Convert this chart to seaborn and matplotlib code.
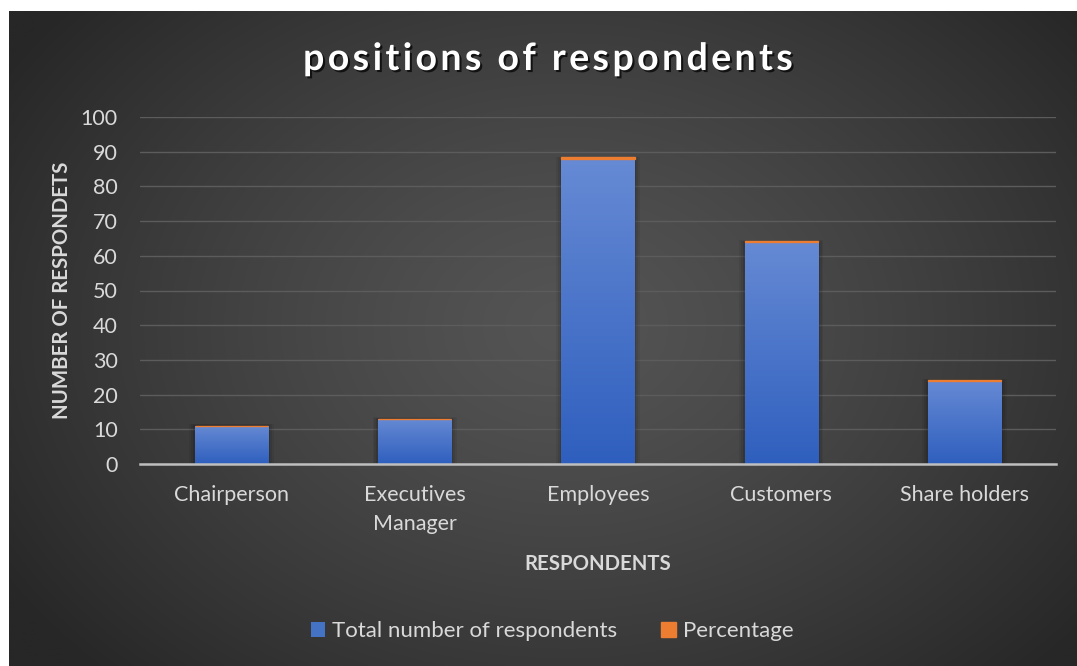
import numpy as np
import pandas as pd
import matplotlib
matplotlib.use("Agg")
import matplotlib.pyplot as plt
import matplotlib.patheffects as pe
from matplotlib.patches import Rectangle
import seaborn as sns

# Survey data
categories = ["Chairperson", "Executives\nManager", "Employees", "Customers", "Share holders"]
total_respondents = [11, 13, 88, 64, 24]
percentage = [0.055, 0.065, 0.44, 0.32, 0.12]
y_ticks = [0, 10, 20, 30, 40, 50, 60, 70, 80, 90, 100]

sns.set_theme(style="white")
plt.rcParams["font.family"] = ["Lato", "DejaVu Sans"]

TEXT = "#d9d9d9"
BLUE = "#4472C4"
ORANGE = "#ED7D31"
FS = 15.5

fig = plt.figure(figsize=(10.77, 6.66), dpi=100)
fig.patch.set_facecolor("white")

# Dark radial-gradient chart area
bg = fig.add_axes([9 / 1077, 0, 1 - 9 / 1077, (666 - 11) / 666])
bg.set_axis_off()
h, w = 300, 500
yy, xx = np.mgrid[0:h, 0:w]
cx, cy = 0.52 * w, 0.48 * h
r = np.sqrt(((xx - cx) / (0.62 * w)) ** 2 + ((yy - cy) / (0.75 * h)) ** 2)
r = np.clip(r, 0, 1)
inner = np.array([0x54, 0x54, 0x54]) / 255
outer = np.array([0x27, 0x27, 0x27]) / 255
img = inner[None, None, :] * (1 - r[..., None] ** 1.3) + outer[None, None, :] * (r[..., None] ** 1.3)
bg.imshow(img, aspect="auto", extent=[0, 1, 0, 1], interpolation="bilinear")
bg.set_xlim(0, 1)
bg.set_ylim(0, 1)

ax = fig.add_axes([140 / 1077, (666 - 464) / 666, (1056 - 140) / 1077, (464 - 117) / 666])
ax.set_facecolor("none")

df = pd.DataFrame({"category": categories, "total": total_respondents, "pct": percentage})
sns.barplot(data=df, x="category", y="total", color=BLUE, width=0.4, ax=ax,
            saturation=1, zorder=3, edgecolor="none", linewidth=0,
            label="Total number of respondents")
sns.barplot(data=df, x="category", y="pct", bottom=df["total"], color=ORANGE, width=0.4,
            ax=ax, saturation=1, zorder=4, edgecolor=ORANGE, linewidth=1.0,
            label="Percentage")

# Vertical gradient and soft shadow on the blue bars
top_c = np.array([0x66, 0x8a, 0xd4]) / 255
bot_c = np.array([0x2f, 0x5f, 0xbe]) / 255
grad = np.linspace(0, 1, 100)[:, None, None]
grad_img = top_c * (1 - grad) + bot_c * grad
for bar in ax.containers[0]:
    x0, y0 = bar.get_x(), bar.get_y()
    bw, bh = bar.get_width(), bar.get_height()
    for k, a in [(0.03, 0.06), (0.02, 0.08), (0.01, 0.10)]:
        ax.add_patch(Rectangle((x0 - k, y0), bw + 2 * k, bh + k * 20, color="black",
                               alpha=a, zorder=2, lw=0))
    im = ax.imshow(np.repeat(grad_img, 2, axis=1), extent=[x0, x0 + bw, y0, y0 + bh],
                   origin="upper", aspect="auto", zorder=3.5, interpolation="bilinear")
    im.set_clip_path(bar)

ax.set_xlim(-0.5, 4.5)
ax.set_ylim(0, 100)
ax.set_yticks(y_ticks)
ax.grid(axis="y", color="#5c5c5c", lw=1, zorder=0)
ax.grid(axis="x", visible=False)
for s in ["top", "right", "left"]:
    ax.spines[s].set_visible(False)
ax.spines["bottom"].set_color("#bfbfbf")
ax.spines["bottom"].set_linewidth(1.8)
ax.spines["bottom"].set_zorder(5)
ax.tick_params(axis="both", colors=TEXT, labelsize=FS, length=0)
ax.tick_params(axis="y", pad=16)
ax.tick_params(axis="x", pad=15)
for t in ax.get_xticklabels():
    t.set_linespacing(1.6)

ax.set_xlabel("RESPONDENTS", color=TEXT, fontsize=14.7, fontweight="bold", labelpad=14)
ax.set_ylabel("NUMBER OF RESPONDETS", color=TEXT, fontsize=14.7, fontweight="bold", labelpad=6)

# Letter-spaced title with drop shadow
title = "positions of respondents"
renderer = fig.canvas.get_renderer()
tkw = dict(color="white", fontsize=27, fontweight="bold", va="center")
probe = fig.text(0, 0, "|", **tkw)
bar_w = probe.get_window_extent(renderer).width
probe.remove()
adv = []
for i in range(len(title) + 1):
    p = fig.text(0, 0, title[:i] + "|", **tkw)
    adv.append(p.get_window_extent(renderer).width - bar_w)
    p.remove()
spacing = 3.4
total_w = adv[-1] + spacing * (len(title) - 1)
x_start = 548 - total_w / 2
shadow = [pe.withSimplePatchShadow(offset=(1.5, -1.5), shadow_rgbFace="black", alpha=0.7)]
for i, ch in enumerate(title):
    if ch == " ":
        continue
    fig.text((x_start + adv[i] + spacing * i) / 1077, 1 - 59 / 666, ch, ha="left",
             path_effects=shadow, **tkw)

leg = ax.legend(loc="center", bbox_to_anchor=((552 - 140) / 916, (666 - 631 - 202) / 347),
                ncol=2, frameon=False, fontsize=16, labelcolor=TEXT, handlelength=0.65,
                handleheight=0.65, handletextpad=0.3, columnspacing=2.0)

fig.savefig("out.png", dpi=100, facecolor=fig.get_facecolor())
